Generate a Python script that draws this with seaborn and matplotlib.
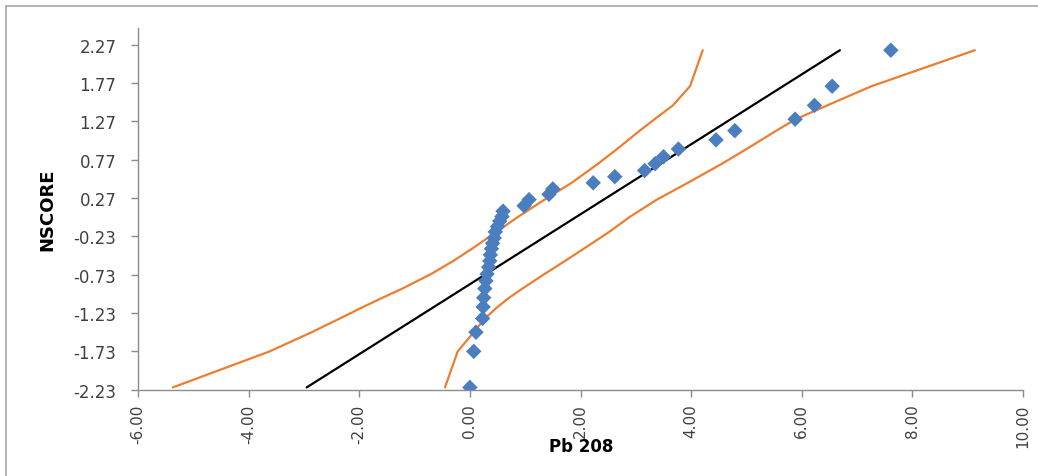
import numpy as np
import pandas as pd
import matplotlib
matplotlib.use("Agg")
import matplotlib.pyplot as plt
import seaborn as sns
from matplotlib.patches import Rectangle

# Pb 208 sample values (sorted) with their normal scores
pb208 = [0.00, 0.07, 0.11, 0.23, 0.24, 0.25, 0.27, 0.29, 0.31, 0.34,
         0.36, 0.37, 0.39, 0.41, 0.44, 0.46, 0.50, 0.54, 0.58, 0.60,
         0.98, 1.07, 1.43, 1.50,
         2.23, 2.62, 3.16, 3.35, 3.50, 3.77, 4.45, 4.79, 5.88, 6.23, 6.55, 7.61]
nscore = [-2.20, -1.73, -1.48, -1.30, -1.15, -1.03, -0.91, -0.81, -0.72, -0.63,
          -0.55, -0.47, -0.39, -0.32, -0.25, -0.17, -0.10, -0.03, 0.03, 0.10,
          0.17, 0.25, 0.32, 0.39,
          0.47, 0.55, 0.63, 0.72, 0.81, 0.91, 1.03, 1.15, 1.30, 1.48, 1.73, 2.20]

# fitted normal line
fit_z = [-2.20, 2.20]
fit_x = [-2.95, 6.69]

# confidence band around the fitted line
band_z = [-2.20, -1.73, -1.48, -1.30, -1.15, -1.03, -0.91, -0.72, -0.55, -0.39, -0.17,
          0.03, 0.25, 0.47, 0.72, 0.91, 1.15, 1.30, 1.48, 1.73, 2.20]
band_lo = [-5.37, -3.62, -2.86, -2.35, -1.93, -1.58, -1.22, -0.70, -0.30, 0.04, 0.48,
           0.88, 1.35, 1.84, 2.32, 2.66, 3.07, 3.34, 3.67, 3.98, 4.21]
band_hi = [-0.45, -0.22, 0.07, 0.27, 0.50, 0.71, 0.95, 1.35, 1.72, 2.06, 2.52,
           2.90, 3.38, 3.94, 4.56, 5.00, 5.54, 5.89, 6.46, 7.26, 9.13]

x_ticks = [-6.0, -4.0, -2.0, 0.0, 2.0, 4.0, 6.0, 8.0, 10.0]
y_ticks = [-2.23, -1.73, -1.23, -0.73, -0.23, 0.27, 0.77, 1.27, 1.77, 2.27]

sns.set_theme(style="ticks")
plt.rcParams["font.family"] = ["DejaVu Sans"]

W, H = 1038, 477
fig = plt.figure(figsize=(W / 100, H / 100), dpi=100)
fig.patch.set_facecolor("white")
ax = fig.add_axes([138 / W, 1 - 390.7 / H, (1023 - 138) / W, (390.7 - 29) / H])

points = pd.DataFrame({"Pb 208": pb208, "NSCORE": nscore})
fit = pd.DataFrame({"x": fit_x, "z": fit_z})
band = pd.DataFrame({"lo": band_lo, "hi": band_hi, "z": band_z})

orange = "#ED7D31"
sns.lineplot(data=band, x="lo", y="z", sort=False, color=orange, lw=1.6, ax=ax, zorder=2)
sns.lineplot(data=band, x="hi", y="z", sort=False, color=orange, lw=1.6, ax=ax, zorder=2)
sns.lineplot(data=fit, x="x", y="z", sort=False, color="black", lw=1.6, ax=ax, zorder=2)
sns.scatterplot(data=points, x="Pb 208", y="NSCORE", marker="D", s=62,
                color="#4A7EBF", edgecolor="none", linewidth=0, ax=ax, zorder=3)

ax.set_xlim(-6, 10)
ax.set_ylim(-2.23, 2.49)
ax.set_xticks(x_ticks)
ax.set_xticklabels([f"{v:.2f}" for v in x_ticks], rotation=90)
ax.set_yticks(y_ticks)
ax.set_yticklabels([f"{v:.2f}" for v in y_ticks])

label_color = "#404040"
axis_color = "#8C8C8C"
ax.tick_params(axis="y", length=5, width=1, color=axis_color, pad=10.5,
               labelsize=12, labelcolor=label_color)
ax.tick_params(axis="x", length=5, width=1, color=axis_color, pad=5,
               labelsize=11, labelcolor=label_color)
for side in ("top", "right"):
    ax.spines[side].set_visible(False)
for side in ("left", "bottom"):
    ax.spines[side].set_color(axis_color)
    ax.spines[side].set_linewidth(1)
ax.set_xlabel("")
ax.set_ylabel("")

fig.text(581 / W, 1 - 447 / H, "Pb 208", ha="center", va="center",
         fontsize=12, fontweight="bold", color="black")
fig.text(47 / W, 1 - 210 / H, "NSCORE", ha="center", va="center", rotation=90,
         fontsize=13, fontweight="bold", color="black")

# chart area frame
fig.add_artist(Rectangle((6 / W, -0.1), 1.2, 1.1 - 7 / H, transform=fig.transFigure,
                         fill=False, edgecolor="#A6A6A6", lw=1.2))

fig.savefig("out.png", dpi=100, facecolor="white")
